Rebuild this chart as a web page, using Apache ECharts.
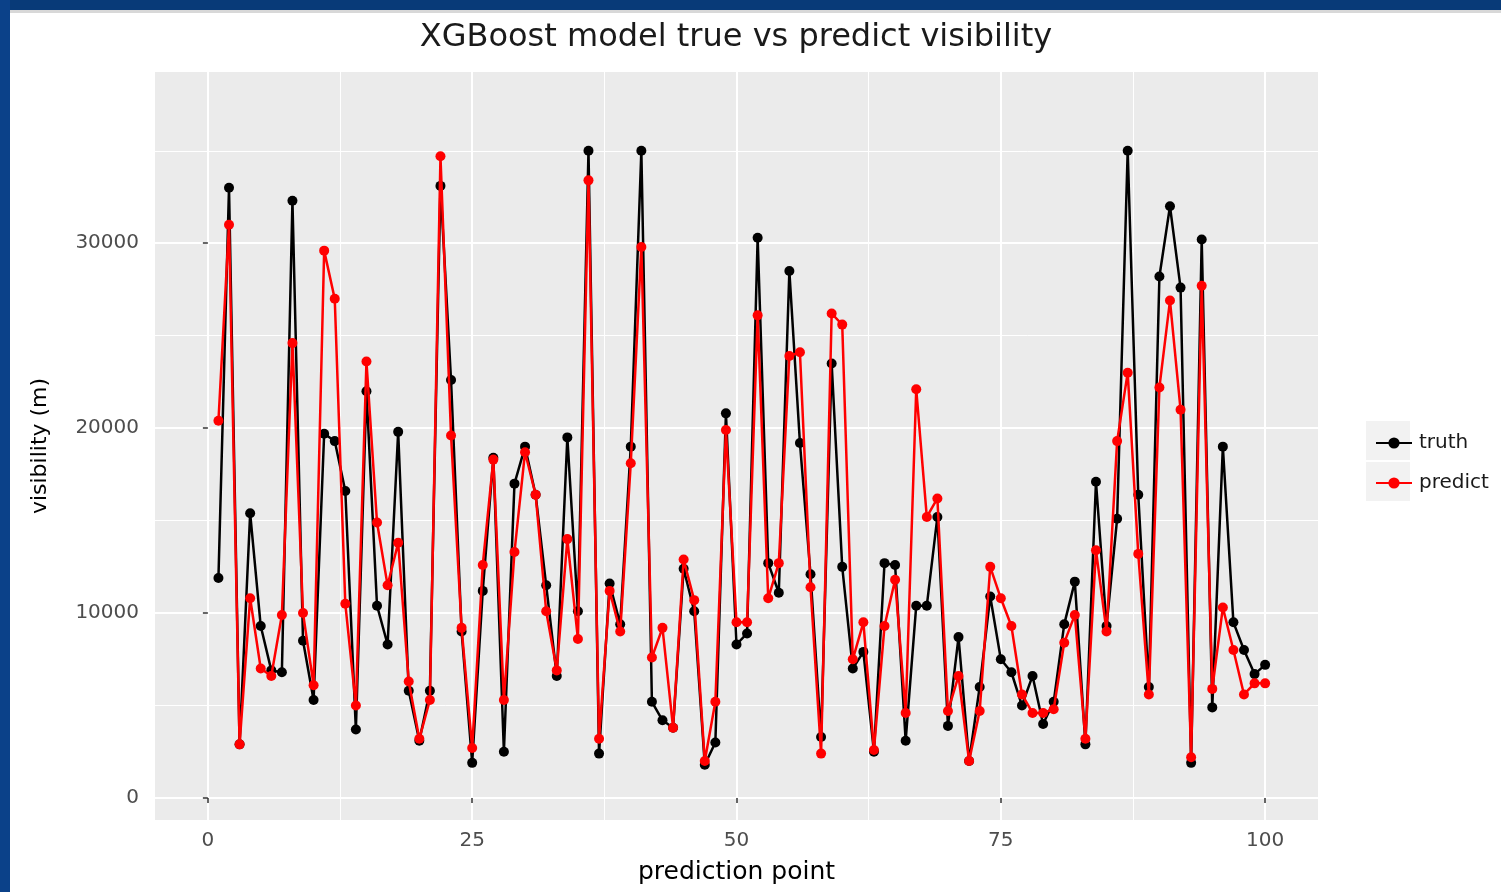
<!DOCTYPE html>
<html>
<head>
<meta charset="utf-8">
<script src="https://cdn.jsdelivr.net/npm/echarts@6/dist/echarts.min.js"></script>
<style>
html,body{margin:0;padding:0;background:#fff;}
#chart{width:1501px;height:892px;}
</style>
</head>
<body>
<div id="chart"></div>
<script>
const titleText = 'XGBoost model true vs predict visibility';
const xName = 'prediction point';
const yName = 'visibility (m)';
const seriesNames = ['truth', 'predict'];
const xTicks = [0, 25, 50, 75, 100];
const xMinor = [12.5, 37.5, 62.5, 87.5];
const yTicks = [0, 10000, 20000, 30000];
const yMinor = [5000, 15000, 25000, 35000];

const truth = [
  11900, 33000, 2900, 15400, 9300, 6900, 6800, 32300, 8500, 5300,
  19700, 19300, 16600, 3700, 22000, 10400, 8300, 19800, 5800, 3100,
  5800, 33100, 22600, 9000, 1900, 11200, 18400, 2500, 17000, 19000,
  16400, 11500, 6600, 19500, 10100, 35000, 2400, 11600, 9400, 19000,
  35000, 5200, 4200, 3800, 12400, 10100, 1800, 3000, 20800, 8300,
  8900, 30300, 12700, 11100, 28500, 19200, 12100, 3300, 23500, 12500,
  7000, 7900, 2500, 12700, 12600, 3100, 10400, 10400, 15200, 3900,
  8700, 2000, 6000, 10900, 7500, 6800, 5000, 6600, 4000, 5200,
  9400, 11700, 2900, 17100, 9300, 15100, 35000, 16400, 6000, 28200,
  32000, 27600, 1900, 30200, 4900, 19000, 9500, 8000, 6700, 7200
];
const predict = [
  20400, 31000, 2900, 10800, 7000, 6600, 9900, 24600, 10000, 6100,
  29600, 27000, 10500, 5000, 23600, 14900, 11500, 13800, 6300, 3200,
  5300, 34700, 19600, 9200, 2700, 12600, 18300, 5300, 13300, 18700,
  16400, 10100, 6900, 14000, 8600, 33400, 3200, 11200, 9000, 18100,
  29800, 7600, 9200, 3800, 12900, 10700, 2000, 5200, 19900, 9500,
  9500, 26100, 10800, 12700, 23900, 24100, 11400, 2400, 26200, 25600,
  7500, 9500, 2600, 9300, 11800, 4600, 22100, 15200, 16200, 4700,
  6600, 2000, 4700, 12500, 10800, 9300, 5600, 4600, 4600, 4800,
  8400, 9900, 3200, 13400, 9000, 19300, 23000, 13200, 5600, 22200,
  26900, 21000, 2200, 27700, 5900, 10300, 8000, 5600, 6200, 6200
];

const pairs = arr => arr.map((v, i) => [i + 1, v]);

const X_MIN = -5, X_MAX = 105, Y_MIN = -1190, Y_MAX = 39260;
const FONT = 'DejaVu Sans';

const chart = echarts.init(document.getElementById('chart'), null, {renderer: 'canvas'});
chart.setOption({
  backgroundColor: '#ffffff',
  animation: false,
  textStyle: {fontFamily: FONT},
  graphic: [
    {type: 'rect', left: 0, top: 10, shape: {width: 1501, height: 3}, style: {fill: '#d8d8d8'}, z: 99},
    {type: 'rect', left: 0, top: 0, shape: {width: 1501, height: 10}, style: {fill: '#083a78'}, z: 100},
    {type: 'rect', left: 0, top: 0, shape: {width: 10, height: 892}, style: {fill: '#0b4189'}, z: 100},
    {type: 'text', x: 736, y: 38, style: {text: titleText, fontFamily: FONT, fontSize: 32, fill: '#1a1a1a', align: 'center', verticalAlign: 'middle'}},
    {type: 'rect', x: 1366, y: 421, shape: {width: 44, height: 39}, style: {fill: '#f2f2f2'}, z: 0},
    {type: 'rect', x: 1366, y: 462, shape: {width: 44, height: 39}, style: {fill: '#f2f2f2'}, z: 0}
  ],
  grid: {left: 155, right: 183, top: 72, bottom: 72, show: true, backgroundColor: '#ebebeb', borderWidth: 0, containLabel: false},
  legend: {
    orient: 'vertical', left: 1370, top: 428, itemGap: 20, itemWidth: 36, itemHeight: 14,
    textStyle: {fontFamily: FONT, fontSize: 20, color: '#1a1a1a', padding: [0, 0, 0, 2]},
    data: seriesNames
  },
  xAxis: [
    {
      type: 'value', min: X_MIN, max: X_MAX, gridIndex: 0,
      name: xName, nameLocation: 'middle', nameGap: 40,
      nameTextStyle: {fontFamily: FONT, fontSize: 25, color: '#000'},
      axisLine: {show: false},
      axisTick: {show: true, length: 5, lineStyle: {color: '#333', width: 1.5}, customValues: xTicks},
      axisLabel: {customValues: xTicks, margin: 11, fontFamily: FONT, fontSize: 20, color: '#4d4d4d'},
      splitLine: {show: true, lineStyle: {color: '#ffffff', width: 2}},
      z: 1
    },
    {
      type: 'value', min: X_MIN, max: X_MAX, gridIndex: 0,
      axisLine: {show: false},
      axisTick: {show: false, customValues: xMinor},
      axisLabel: {show: false, customValues: xMinor},
      splitLine: {show: true, lineStyle: {color: '#ffffff', width: 1}},
      z: 0
    }
  ],
  yAxis: [
    {
      type: 'value', min: Y_MIN, max: Y_MAX, gridIndex: 0,
      name: yName, nameLocation: 'middle', nameGap: 104,
      nameTextStyle: {fontFamily: FONT, fontSize: 22, color: '#000'},
      axisLine: {show: false},
      axisTick: {show: true, length: 5, lineStyle: {color: '#333', width: 1.5}, customValues: yTicks},
      axisLabel: {customValues: yTicks, margin: 16, fontFamily: FONT, fontSize: 20, color: '#4d4d4d',
        formatter: v => String(v)},
      splitLine: {show: true, lineStyle: {color: '#ffffff', width: 2}},
      z: 1
    },
    {
      type: 'value', min: Y_MIN, max: Y_MAX, gridIndex: 0,
      axisLine: {show: false},
      axisTick: {show: false, customValues: yMinor},
      axisLabel: {show: false, customValues: yMinor},
      splitLine: {show: true, lineStyle: {color: '#ffffff', width: 1}},
      z: 0
    }
  ],
  series: [
    {
      name: seriesNames[0], type: 'line', xAxisIndex: 0, yAxisIndex: 0,
      data: pairs(truth), color: '#000000',
      symbol: 'circle', symbolSize: 10, showSymbol: true,
      lineStyle: {width: 2.5, color: '#000000'}, itemStyle: {color: '#000000'},
      z: 3
    },
    {
      name: seriesNames[1], type: 'line', xAxisIndex: 0, yAxisIndex: 0,
      data: pairs(predict), color: '#ff0000',
      symbol: 'circle', symbolSize: 10, showSymbol: true,
      lineStyle: {width: 2.5, color: '#ff0000'}, itemStyle: {color: '#ff0000'},
      z: 4
    }
  ]
});
</script>
</body>
</html>
